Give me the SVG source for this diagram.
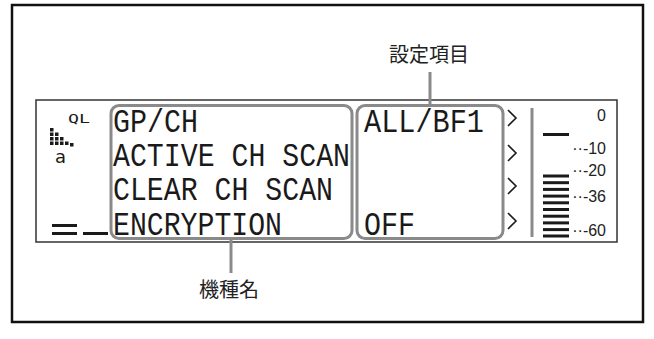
<svg xmlns="http://www.w3.org/2000/svg" width="654" height="339" viewBox="0 0 654 339">
<style>
.lcd{font-family:"Liberation Mono","DejaVu Sans Mono",monospace;font-size:33px;fill:#1a1a1a}
.lbl{font-family:"Noto Sans CJK JP","Noto Sans CJK SC",sans-serif;font-size:20px;fill:#222}
.sc{font-family:"Liberation Sans",Arial,sans-serif;font-size:16px;fill:#222;text-anchor:end}
.box{fill:none;stroke:#8a8a8a;stroke-width:3}
.lead{stroke:#8a8a8a;stroke-width:3;fill:none}
.arr{fill:none;stroke:#1a1a1a;stroke-width:1.6}
.bar{fill:#1a1a1a}
</style>
<rect width="654" height="339" fill="#fff"/>
<rect x="12" y="5" width="631" height="317" fill="none" stroke="#111" stroke-width="2.5"/>
<g id="display">
<rect x="36" y="100" width="581" height="142" fill="none" stroke="#333" stroke-width="1.5"/>
<text x="68" y="123" font-family="DejaVu Sans Mono,monospace" font-size="13" fill="#1a1a1a" textLength="22" lengthAdjust="spacingAndGlyphs">QL</text>
<g class="bar">
<rect x="50" y="128" width="3.5" height="3.5"/>
<rect x="50" y="132.5" width="3.5" height="3.5"/><rect x="55" y="132.5" width="3.5" height="3.5"/>
<rect x="50" y="137" width="3.5" height="3.5"/><rect x="55" y="137" width="3.5" height="3.5"/><rect x="60" y="137" width="3.5" height="3.5"/>
<rect x="50" y="141.5" width="3.5" height="3.5"/><rect x="55" y="141.5" width="3.5" height="3.5"/><rect x="60" y="141.5" width="3.5" height="3.5"/><rect x="65" y="141.5" width="3.5" height="3.5"/>
<rect x="70" y="143" width="3.5" height="3.5"/>
</g>
<text x="55" y="163" font-family="DejaVu Sans,sans-serif" font-size="18" fill="#1a1a1a">a</text>
<rect class="bar" x="52" y="224" width="25" height="3"/>
<rect class="bar" x="52" y="232" width="25" height="3"/>
<rect class="bar" x="83" y="232" width="25" height="3"/>
</g>
<g id="name-box">
<rect class="box" x="111" y="105.5" width="241" height="133" rx="8"/>
<text class="lcd" x="113" y="132" textLength="85" lengthAdjust="spacingAndGlyphs">GP/CH</text>
<text class="lcd" x="113" y="166" textLength="237" lengthAdjust="spacingAndGlyphs">ACTIVE CH SCAN</text>
<text class="lcd" x="113" y="200" textLength="220" lengthAdjust="spacingAndGlyphs">CLEAR CH SCAN</text>
<text class="lcd" x="113" y="235" textLength="169" lengthAdjust="spacingAndGlyphs">ENCRYPTION</text>
</g>
<g id="value-box">
<rect class="box" x="357" y="105.5" width="146" height="133" rx="8"/>
<text class="lcd" x="364" y="132" textLength="120" lengthAdjust="spacingAndGlyphs">ALL/BF1</text>
<text class="lcd" x="364" y="235" textLength="51" lengthAdjust="spacingAndGlyphs">OFF</text>
</g>
<g id="arrows">
<polyline class="arr" points="508,110 516,118 508,126"/>
<polyline class="arr" points="508,145 516,153 508,161"/>
<polyline class="arr" points="508,178 516,186 508,194"/>
<polyline class="arr" points="508,213 516,221 508,229"/>
</g>
<g id="meter">
<line x1="532" y1="108" x2="532" y2="237" stroke="#8a8a8a" stroke-width="3"/>
<rect class="bar" x="543" y="133" width="26" height="3"/>
<g class="bar">
<rect x="543" y="174.5" width="26" height="3"/>
<rect x="543" y="181.2" width="26" height="3"/>
<rect x="543" y="187.9" width="26" height="3"/>
<rect x="543" y="194.6" width="26" height="3"/>
<rect x="543" y="201.3" width="26" height="3"/>
<rect x="543" y="208" width="26" height="3"/>
<rect x="543" y="214.7" width="26" height="3"/>
<rect x="543" y="221.4" width="26" height="3"/>
<rect x="543" y="228.1" width="26" height="3"/>
<rect x="543" y="234.5" width="26" height="3"/>
</g>
<text class="sc" x="606" y="121">0</text>
<text class="sc" x="606" y="154">··-10</text>
<text class="sc" x="606" y="176">··-20</text>
<text class="sc" x="606" y="202">··-36</text>
<text class="sc" x="606" y="236">··-60</text>
</g>
<g id="connectors">
<line class="lead" x1="430" y1="72" x2="430" y2="105"/>
<line class="lead" x1="231" y1="239" x2="231" y2="273"/>
</g>
<g id="label-setting"><text class="lbl" x="429" y="62" text-anchor="middle">設定項目</text></g>
<g id="label-model"><text class="lbl" x="229" y="297" text-anchor="middle">機種名</text></g>
</svg>
